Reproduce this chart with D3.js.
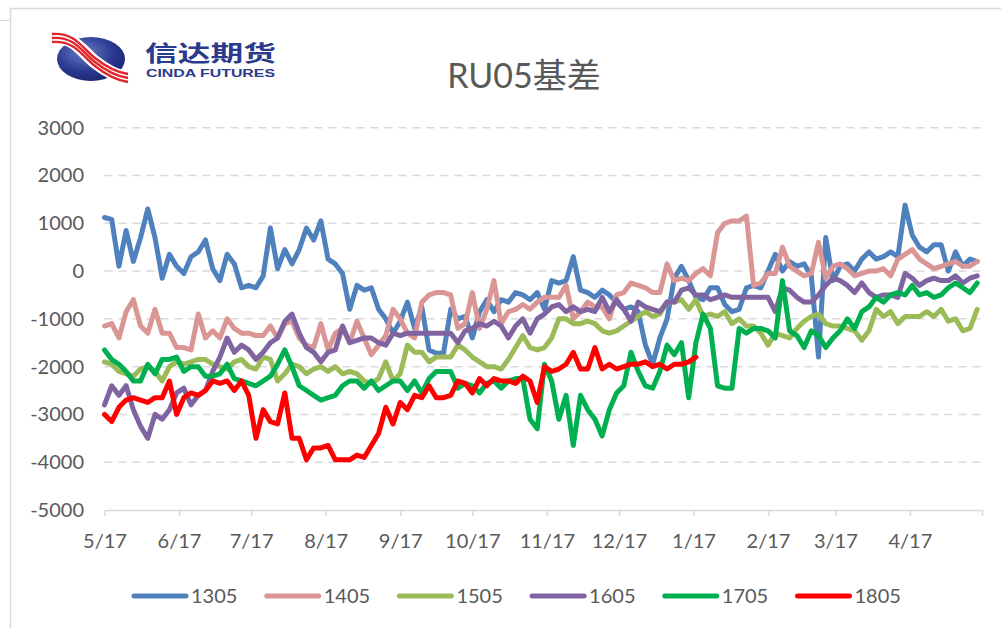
<!DOCTYPE html>
<html>
<head>
<meta charset="utf-8">
<script src="https://cdn.jsdelivr.net/npm/d3@7"></script>
<style>
  body { margin: 0; background: #fff; }
  svg { display: block; font-family: Lato, "Noto Sans CJK SC", sans-serif; }
</style>
</head>
<body>
<svg width="1001" height="628"></svg>
<script>
// ---- data ----
var seriesNames = ["1305", "1405", "1505", "1605", "1705", "1805"];
var monthLabels = ["5/17", "6/17", "7/17", "8/17", "9/17", "10/17", "11/17", "12/17", "1/17", "2/17", "3/17", "4/17"];
var yTicks = [3000, 2000, 1000, 0, -1000, -2000, -3000, -4000, -5000];
var firstDay = "2012-05-17";
var stepDays = 3; // one value every 3 days

var s1305 = [1120, 1080, 100, 850, 200, 700, 1300, 700, -150, 350, 100, -50, 300, 400, 650, 50, -200, 350, 150, -350, -300,
  -350, -100, 900, 50, 450, 150, 450, 900, 650, 1050, 250, 150, -50, -800, -300, -400, -350, -800, -1000, -1300, -1050,
  -650, -1200, -750, -1650, -1720, -1720, -800, -1000, -950, -1400, -850, -600, -850, -600, -650, -450, -500, -600, -450, -800, -200,
  -250, -200, 300, -400, -450, -550, -400, -500, -650, -800, -750, -850, -1550, -1950, -1400, -1000, -150, 100, -200, -550, -600,
  -350, -350, -700, -850, -800, -350, -300, -350, 0, 350, 0, 200, 100, 150, -100, -1800, 700, -200, 100, 150, 0,
  250, 400, 250, 300, 400, 300, 1380, 750, 500, 400, 550, 550, 0, 400, 100, 250, 200];
var s1405 = [-1150, -1100, -1400, -850, -600, -1150, -1300, -800, -1300, -1300, -1600, -1600, -1650, -900, -1400, -1250, -1400, -1000, -1200, -1300, -1300,
  -1350, -1350, -1150, -1400, -1100, -1050, -1400, -1550, -1600, -1100, -1650, -1300, -1200, -1500, -1050, -1400, -1750, -1550, -1350, -800, -1000,
  -1300, -1400, -650, -500, -450, -450, -500, -1200, -1100, -450, -1200, -800, -200, -1100, -850, -800, -700, -800, -650, -550, -550,
  -550, -300, -1000, -850, -650, -750, -750, -1000, -500, -450, -250, -300, -350, -450, -450, 150, -200, -150, -200, -50, 50,
  -100, 800, 1000, 1050, 1050, 1150, -300, -250, -50, -50, 500, 100, 0, -100, -50, 600, -150, 100, 150, 50, -100,
  -50, 0, 0, 50, -100, 250, 350, 450, 250, 150, 50, 100, 150, 200, 100, 100, 200];
var s1505 = [-1900, -1950, -2100, -2150, -2200, -2050, -2000, -2100, -2300, -2000, -1900, -1950, -1900, -1850, -1850, -1950, -2000, -2050, -1900, -1850, -2000,
  -2050, -1800, -1850, -2300, -2150, -1950, -2000, -2150, -2050, -2000, -2100, -2000, -2150, -2100, -2150, -2300, -2350, -2250, -1900, -2300, -2150,
  -1550, -1700, -1700, -1900, -1800, -1800, -1800, -1550, -1650, -1800, -1900, -2000, -2000, -2050, -1850, -1600, -1350, -1600, -1650, -1600, -1400,
  -1000, -1000, -1100, -1100, -1050, -1100, -1250, -1300, -1250, -1150, -1050, -950, -850, -950, -900, -650, -650, -600, -800, -600, -950,
  -900, -950, -850, -1100, -1000, -1150, -1150, -1300, -1550, -1300, -1350, -1400, -1200, -1050, -950, -900, -1100, -1150, -1150, -1200, -1250,
  -1450, -1250, -800, -950, -850, -1100, -950, -950, -950, -850, -950, -800, -1050, -1000, -1250, -1200, -800];
var s1605 = [-2800, -2400, -2600, -2400, -2900, -3250, -3500, -3000, -3100, -2900, -2550, -2450, -2800, -2600, -2500, -2100, -1800, -1400, -1700, -1550, -1650,
  -1850, -1700, -1500, -1400, -1050, -900, -1300, -1600, -1700, -1900, -1700, -1650, -1150, -1500, -1450, -1400, -1400, -1500, -1550, -1300, -1350,
  -1300, -1300, -1300, -1300, -1300, -1300, -1300, -1500, -1250, -1200, -1100, -1150, -1050, -1150, -1400, -1150, -1000, -1300, -1000, -900, -750,
  -700, -850, -750, -850, -800, -850, -550, -850, -600, -800, -1050, -650, -750, -800, -850, -650, -650, -400, -350, -500, -500,
  -600, -550, -500, -550, -550, -550, -550, -550, -550, -850, -350, -400, -550, -650, -650, -500, -300, -150, -200, -300, -450,
  -250, -450, -550, -500, -500, -550, -50, -150, -300, -200, -150, -200, -200, -100, -250, -150, -100];
var s1705 = [-1650, -1850, -1950, -2100, -2300, -2300, -1950, -2150, -1850, -1850, -1800, -2100, -2000, -2000, -2200, -2200, -2150, -1950, -2250, -2300, -2350,
  -2400, -2300, -2200, -1950, -1650, -2000, -2400, -2500, -2600, -2700, -2650, -2600, -2400, -2300, -2300, -2450, -2300, -2500, -2400, -2300, -2300,
  -2500, -2300, -2550, -2250, -2100, -2100, -2100, -2450, -2350, -2400, -2550, -2350, -2300, -2450, -2300, -2250, -2250, -3100, -3300, -1950, -2300,
  -3100, -2600, -3650, -2600, -2900, -3100, -3450, -2900, -2550, -2400, -1700, -2100, -2400, -2450, -2100, -1550, -1750, -1500, -2650, -1500, -900,
  -1200, -2400, -2450, -2450, -1200, -1300, -1200, -1200, -1250, -1400, -200, -1250, -1350, -1600, -1250, -1350, -1600, -1400, -1250, -1000, -1200,
  -850, -750, -550, -650, -500, -450, -500, -300, -500, -450, -550, -500, -350, -250, -350, -450, -250];
var s1805 = [-3000, -3150, -2850, -2700, -2650, -2700, -2750, -2650, -2650, -2300, -3000, -2650, -2550, -2600, -2500, -2300, -2350, -2300, -2500, -2300, -2600,
  -3500, -2900, -3150, -3200, -2550, -3500, -3500, -3950, -3700, -3700, -3650, -3950, -3950, -3950, -3850, -3900, -3650, -3400, -2850, -3200, -2750,
  -2900, -2600, -2650, -2400, -2650, -2650, -2600, -2300, -2350, -2550, -2250, -2400, -2250, -2300, -2300, -2350, -2200, -2300, -2750, -2000, -2100,
  -2050, -1950, -1700, -2050, -2050, -1600, -2050, -1950, -2050, -2000, -1950, -1950, -1900, -2000, -1950, -2050, -1950, -1950, -1900, -1800];

var seriesValues = [s1305, s1405, s1505, s1605, s1705, s1805];
var seriesColors = ["#4F81BD", "#D99694", "#9BBB59", "#8064A2", "#00B050", "#FF0000"];

function main() {
    var svg = d3.select("svg"),
        plot = {left: 104.5, right: 982, top: 127.7, bottom: 510};

    var t0 = d3.utcParse("%Y-%m-%d")(firstDay);
    var x = d3.scaleUtc()
      .domain([t0, d3.utcYear.offset(t0, 1)])
      .range([plot.left, plot.right]);
    var y = d3.scaleLinear()
      .domain([-5000, 3000])
      .range([plot.bottom, plot.top]);

    // frame of the chart box
    svg.append("path")
      .attr("d", "M10.5,628 V8.5 H1001")
      .attr("fill", "none").attr("stroke", "#d9d9d9").attr("stroke-width", 1.5);
    svg.append("line")
      .attr("x1", 0).attr("x2", 10).attr("y1", 20.5).attr("y2", 20.5)
      .attr("stroke", "#d9d9d9");

    // logo
    var logo = svg.append("g");
    var grad = svg.append("defs").append("radialGradient").attr("id", "lg")
      .attr("cx", "40%").attr("cy", "35%").attr("r", "70%");
    grad.append("stop").attr("offset", "0%").attr("stop-color", "#6c7cc4");
    grad.append("stop").attr("offset", "60%").attr("stop-color", "#2b3a92");
    grad.append("stop").attr("offset", "100%").attr("stop-color", "#1a2470");
    logo.append("ellipse").attr("cx", 91).attr("cy", 59).attr("rx", 34).attr("ry", 22)
      .attr("fill", "url(#lg)");
    logo.append("path")
      .attr("d", "M52,38 C75,36 82,52 95,62 C105,70 115,76 128,78")
      .attr("fill", "none").attr("stroke", "#fff").attr("stroke-width", 13);
    [-4, 0, 4].forEach(function(o) {
        logo.append("path")
          .attr("d", "M52," + (38 + o) + " C75," + (36 + o) + " 82," + (52 + o) + " 95," + (62 + o) + " C105," + (70 + o) + " 115," + (76 + o) + " 128," + (78 + o))
          .attr("fill", "none").attr("stroke", "#e0262c").attr("stroke-width", 2.4);
    });
    logo.append("text").attr("x", 145).attr("y", 61)
      .attr("font-family", "'Noto Sans CJK SC'").attr("font-weight", 700)
      .attr("font-size", 22).attr("fill", "#2b3a8c")
      .attr("textLength", 131).attr("lengthAdjust", "spacingAndGlyphs")
      .text("信达期货");
    logo.append("text").attr("x", 146).attr("y", 77)
      .attr("font-family", "'Liberation Sans'").attr("font-weight", 700)
      .attr("font-size", 11).attr("fill", "#2b3a8c")
      .attr("textLength", 129).attr("lengthAdjust", "spacingAndGlyphs")
      .text("CINDA FUTURES");

    // title
    svg.append("text")
      .attr("x", 524).attr("y", 88)
      .attr("text-anchor", "middle")
      .attr("font-size", 34).attr("fill", "#595959")
      .text("RU05基差");

    // gridlines
    svg.append("g").selectAll("line")
      .data(yTicks.filter(function(d) { return d > -5000; }))
      .join("line")
        .attr("x1", plot.left).attr("x2", plot.right + 1)
        .attr("y1", function(d) { return y(d); }).attr("y2", function(d) { return y(d); })
        .attr("stroke", "#d9d9d9").attr("stroke-width", 1.5)
        .attr("stroke-dasharray", "8,6");

    // y axis labels
    var yAxis = svg.append("g")
      .attr("transform", "translate(84,0)")
      .call(d3.axisLeft(y).tickValues(yTicks).tickSize(0).tickPadding(0)
        .tickFormat(function(d) { return String(d); }));
    yAxis.select(".domain").remove();
    yAxis.selectAll("text")
      .attr("font-family", "Lato").attr("font-size", 20).attr("fill", "#595959");

    // x axis
    var monthTicks = d3.range(monthLabels.length + 1).map(function(i) { return d3.utcMonth.offset(t0, i); });
    var xAxis = svg.append("g")
      .attr("transform", "translate(0," + plot.bottom + ")")
      .call(d3.axisBottom(x).tickValues(monthTicks).tickSize(6).tickSizeOuter(0)
        .tickFormat(function(d, i) { return monthLabels[i] || ""; }));
    xAxis.select(".domain").attr("stroke", "#d9d9d9").attr("stroke-width", 1.5);
    xAxis.selectAll(".tick line").attr("stroke", "#d9d9d9").attr("stroke-width", 1.5);
    xAxis.selectAll("text")
      .attr("y", 24)
      .attr("font-family", "Lato").attr("font-size", 20).attr("fill", "#595959");

    // series
    var line = d3.line()
      .x(function(d, i) { return x(d3.utcDay.offset(t0, i * stepDays)); })
      .y(function(d) { return y(d); });
    svg.append("g").selectAll("path")
      .data(seriesValues)
      .join("path")
        .attr("d", line)
        .attr("fill", "none")
        .attr("stroke", function(d, i) { return seriesColors[i]; })
        .attr("stroke-width", 5)
        .attr("stroke-linejoin", "round")
        .attr("stroke-linecap", "round");

    // legend
    var legend = svg.append("g").selectAll("g")
      .data(seriesNames)
      .join("g")
        .attr("transform", function(d, i) { return "translate(" + (134 + i * 132.7) + ",596)"; });
    legend.append("line")
      .attr("x1", 0).attr("x2", 52)
      .attr("stroke", function(d, i) { return seriesColors[i]; })
      .attr("stroke-width", 5).attr("stroke-linecap", "round");
    legend.append("text")
      .attr("x", 57).attr("dy", "0.36em")
      .attr("font-size", 20).attr("fill", "#595959")
      .text(function(d) { return d; });
}
main();
</script>
</body>
</html>
